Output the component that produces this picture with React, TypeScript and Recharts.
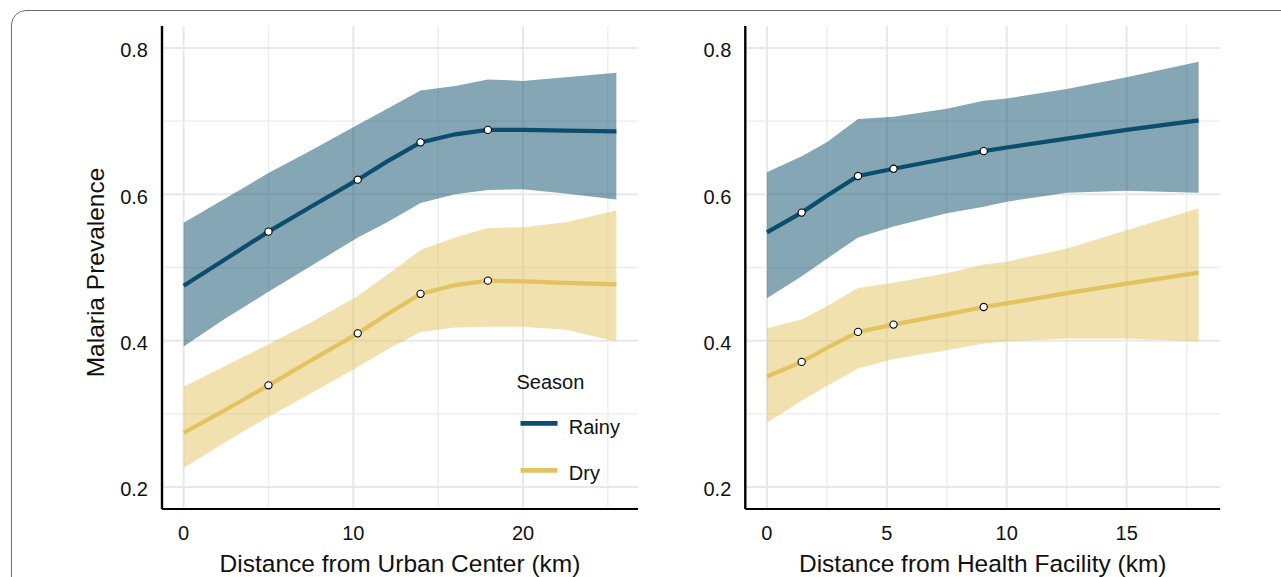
import React from 'react';
import { ComposedChart, Area, Line, XAxis, YAxis, CartesianGrid, Legend } from 'recharts';

// distance from urban center (km) and fitted prevalence
const urbanKm = [0, 2.5, 5, 7.5, 10.26, 12, 13.96, 16, 17.93, 20, 22.5, 25.5];
const urbanRainy = [0.475, 0.512, 0.549, 0.583, 0.62, 0.645, 0.671, 0.682, 0.688, 0.688, 0.687, 0.686];
const urbanRainyLow = [0.392, 0.431, 0.467, 0.502, 0.541, 0.562, 0.588, 0.6, 0.606, 0.607, 0.601, 0.593];
const urbanRainyHigh = [0.561, 0.595, 0.629, 0.66, 0.695, 0.717, 0.742, 0.748, 0.757, 0.755, 0.76, 0.766];
const urbanDry = [0.274, 0.306, 0.339, 0.373, 0.41, 0.436, 0.464, 0.476, 0.482, 0.481, 0.479, 0.477];
const urbanDryLow = [0.226, 0.262, 0.296, 0.328, 0.364, 0.388, 0.412, 0.418, 0.419, 0.419, 0.415, 0.399];
const urbanDryHigh = [0.337, 0.366, 0.395, 0.425, 0.461, 0.49, 0.524, 0.541, 0.554, 0.555, 0.562, 0.578];
const urbanMarkers = [5, 10.26, 13.96, 17.93];

// distance from health facility (km)
const healthKm = [0, 1.45, 2.5, 3.8, 5.28, 7.5, 9.04, 10, 12.5, 15, 18];
const healthRainy = [0.548, 0.575, 0.598, 0.625, 0.635, 0.649, 0.659, 0.664, 0.676, 0.688, 0.701];
const healthRainyLow = [0.458, 0.488, 0.512, 0.541, 0.556, 0.574, 0.583, 0.59, 0.602, 0.605, 0.602];
const healthRainyHigh = [0.63, 0.652, 0.671, 0.703, 0.706, 0.717, 0.728, 0.731, 0.744, 0.76, 0.781];
const healthDry = [0.351, 0.371, 0.39, 0.412, 0.422, 0.436, 0.446, 0.451, 0.465, 0.478, 0.493];
const healthDryLow = [0.288, 0.318, 0.338, 0.362, 0.375, 0.387, 0.396, 0.399, 0.403, 0.403, 0.399];
const healthDryHigh = [0.417, 0.429, 0.447, 0.472, 0.479, 0.492, 0.504, 0.508, 0.526, 0.551, 0.581];
const healthMarkers = [1.45, 3.8, 5.28, 9.04];

const yTicks = [0.2, 0.4, 0.6, 0.8];
const yMinor = [0.3, 0.5, 0.7];
const urbanTicks = [0, 10, 20];
const urbanMinor = [5, 15, 25];
const healthTicks = [0, 5, 10, 15];
const healthMinor = [2.5, 7.5, 12.5, 17.5];

const seasonTitle = 'Season';
const seasonOrder = ['Rainy', 'Dry'];

const FONT = '"Liberation Sans", Arial, Helvetica, sans-serif';
const RAINY = '#0b4d6c';
const DRY = '#e2c360';
const TEXT = '#111';

const buildRows = (
  xs: number[], rainy: number[], rainyLo: number[], rainyHi: number[],
  dry: number[], dryLo: number[], dryHi: number[]
) =>
  xs.map((x, i) => ({
    x,
    rainy: rainy[i],
    rainyBand: [rainyLo[i], rainyHi[i]],
    dry: dry[i],
    dryBand: [dryLo[i], dryHi[i]],
  }));

const markerDot = (marks: number[]) => (props: any) => {
  const { cx, cy, payload, index } = props;
  if (!marks.includes(payload.x)) return <g key={`n-${index}`} />;
  return <circle key={`m-${index}`} cx={cx} cy={cy} r={3.6} fill="#fff" stroke="#000" strokeWidth={1.1} />;
};

const YTick = (props: any) => (
  <text x={props.x - 14} y={props.y + 9.3} textAnchor="end" fontSize={20} fill={TEXT} fontFamily={FONT}>
    {props.payload.value}
  </text>
);

const XTick = (props: any) => (
  <text x={props.x} y={props.y + 31} textAnchor="middle" fontSize={20} fill={TEXT} fontFamily={FONT}>
    {props.payload.value}
  </text>
);

const xTitle = (text: string) => (props: any) => {
  const vb = props.viewBox || {};
  return (
    <text x={vb.x + vb.width / 2} y={vb.y + 63.3} textAnchor="middle" fontSize={24.5} fill={TEXT} fontFamily={FONT}>
      {text}
    </text>
  );
};

const yTitle = (props: any) => {
  const vb = props.viewBox || {};
  const cx = 104.3;
  const cy = vb.y + vb.height / 2 + 5;
  return (
    <text x={cx} y={cy} transform={`rotate(-90, ${cx}, ${cy})`} textAnchor="middle" fontSize={24.5} fill={TEXT} fontFamily={FONT}>
      Malaria Prevalence
    </text>
  );
};

const SeasonLegend = (props: any) => {
  const items = (props.payload || [])
    .filter((p: any) => seasonOrder.includes(p.value))
    .sort((a: any, b: any) => seasonOrder.indexOf(a.value) - seasonOrder.indexOf(b.value));
  return (
    <svg width={130} height={130} style={{ display: 'block' }}>
      <text x={6.5} y={29} fontSize={20} fill={TEXT} fontFamily={FONT}>{seasonTitle}</text>
      {items.map((p: any, i: number) => (
        <g key={p.value}>
          <line x1={10.5} x2={47.5} y1={63.3 + i * 47} y2={63.3 + i * 47} stroke={p.color} strokeWidth={4.8} />
          <text x={58.8} y={74 + i * 46} fontSize={20} fill={TEXT} fontFamily={FONT}>{p.value}</text>
        </g>
      ))}
    </svg>
  );
};

type PanelProps = {
  rows: ReturnType<typeof buildRows>;
  marks: number[];
  domain: [number, number];
  ticks: number[];
  minor: number[];
  title: string;
  width: number;
  axisWidth: number;
  rightMargin: number;
  showYTitle?: boolean;
  showLegend?: boolean;
};

const Panel = ({ rows, marks, domain, ticks, minor, title, width, axisWidth, rightMargin, showYTitle, showLegend }: PanelProps) => (
  <ComposedChart width={width} height={577} data={rows} margin={{ top: 26, right: rightMargin, bottom: 0, left: 0 }}>
    <CartesianGrid stroke="#ececec" strokeWidth={1.3} horizontalValues={yMinor} verticalValues={minor} />
    <CartesianGrid stroke="#e8e8e8" strokeWidth={2} horizontalValues={yTicks} verticalValues={ticks} />
    <XAxis
      dataKey="x"
      type="number"
      domain={domain}
      ticks={ticks}
      allowDataOverflow
      height={68}
      tickLine={false}
      tickSize={0}
      tickMargin={0}
      axisLine={{ stroke: '#000', strokeWidth: 2.2 }}
      tick={<XTick />}
      label={xTitle(title)}
    />
    <YAxis
      type="number"
      domain={[0.17, 0.83]}
      ticks={yTicks}
      allowDataOverflow
      width={axisWidth}
      tickLine={false}
      tickSize={0}
      tickMargin={0}
      axisLine={{ stroke: '#000', strokeWidth: 2.4 }}
      tick={<YTick />}
      label={showYTitle ? yTitle : undefined}
    />
    <Area dataKey="rainyBand" type="linear" stroke="none" fill={RAINY} fillOpacity={0.5} legendType="none" isAnimationActive={false} />
    <Area dataKey="dryBand" type="linear" stroke="none" fill={DRY} fillOpacity={0.5} legendType="none" isAnimationActive={false} />
    <Line dataKey="rainy" name="Rainy" type="linear" stroke={RAINY} strokeWidth={4.2} dot={markerDot(marks)} activeDot={false} isAnimationActive={false} />
    <Line dataKey="dry" name="Dry" type="linear" stroke={DRY} strokeWidth={4.2} dot={markerDot(marks)} activeDot={false} isAnimationActive={false} />
    {showLegend && (
      <Legend
        layout="horizontal"
        align="center"
        verticalAlign="middle"
        content={<SeasonLegend />}
        wrapperStyle={{ left: 510, top: 360, width: 130, height: 130 }}
      />
    )}
  </ComposedChart>
);

const urbanRows = buildRows(urbanKm, urbanRainy, urbanRainyLow, urbanRainyHigh, urbanDry, urbanDryLow, urbanDryHigh);
const healthRows = buildRows(healthKm, healthRainy, healthRainyLow, healthRainyHigh, healthDry, healthDryLow, healthDryHigh);

export default function App() {
  return (
    <div style={{ position: 'absolute', left: 0, top: 0, width: 1281, height: 577, overflow: 'hidden', background: '#fff', fontFamily: FONT }}>
      <div
        style={{
          position: 'absolute', left: 10.5, top: 10, width: 1400, height: 700,
          border: '1.6px solid #6e6e6e', borderRadius: 15, boxSizing: 'border-box',
        }}
      />
      <div style={{ position: 'absolute', left: 0, top: 0 }}>
        <Panel
          rows={urbanRows}
          marks={urbanMarkers}
          domain={[-1.275, 26.775]}
          ticks={urbanTicks}
          minor={urbanMinor}
          title="Distance from Urban Center (km)"
          width={650}
          axisWidth={162}
          rightMargin={12}
          showYTitle
          showLegend
        />
      </div>
      <div style={{ position: 'absolute', left: 650, top: 0 }}>
        <Panel
          rows={healthRows}
          marks={healthMarkers}
          domain={[-0.9, 18.9]}
          ticks={healthTicks}
          minor={healthMinor}
          title="Distance from Health Facility (km)"
          width={631}
          axisWidth={95.3}
          rightMargin={60.8}
        />
      </div>
    </div>
  );
}
